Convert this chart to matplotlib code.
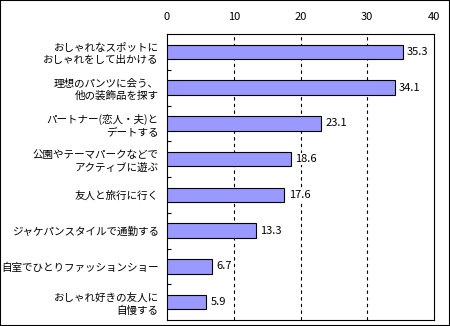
import matplotlib
matplotlib.use("Agg")
import matplotlib.pyplot as plt
from matplotlib.patches import Rectangle
import numpy as np

plt.rcParams['font.family'] = ['Noto Sans CJK JP', 'DejaVu Sans']

categories = [
    "おしゃれなスポットに\nおしゃれをして出かける",
    "理想のパンツに会う、\n他の装飾品を探す",
    "パートナー(恋人・夫)と\nデートする",
    "公園やテーマパークなどで\nアクティブに遊ぶ",
    "友人と旅行に行く",
    "ジャケパンスタイルで通勤する",
    "自室でひとりファッションショー",
    "おしゃれ好きの友人に\n自慢する",
]
values = [35.3, 34.1, 23.1, 18.6, 17.6, 13.3, 6.7, 5.9]
xticks = [0, 10, 20, 30, 40]

fig = plt.figure(figsize=(4.5, 3.26), dpi=100)
ax = fig.add_axes([167/450, 1-320/326, (434-167)/450, (320-34)/326])

y = np.arange(len(categories))
ax.barh(y, values, height=0.4, color='#9999FF', edgecolor='black', linewidth=0.8, zorder=3)
ax.set_ylim(len(categories)-0.5, -0.5)
ax.set_xlim(0, 40)

for v, yi in zip(values, y):
    ax.annotate(f"{v:.1f}", xy=(v, yi), xytext=(3, 0), textcoords='offset points',
                va='center', ha='left', fontsize=8, zorder=4,
                bbox=dict(facecolor='white', edgecolor='none', pad=0.5))

ax.set_xticks(xticks)
ax.xaxis.tick_top()
ax.tick_params(axis='x', length=0, pad=9, labelsize=8)
ax.set_yticks(y)
ax.set_yticklabels(categories, fontsize=7.6, linespacing=1.3)
ax.tick_params(axis='y', which='major', length=0, pad=6)
ax.set_yticks(np.arange(len(categories)-1)+0.5, minor=True)
ax.tick_params(axis='y', which='minor', direction='in', length=3, width=0.8)
for lbl in ax.get_yticklabels():
    lbl.set_multialignment('right')

for gx in xticks[1:-1]:
    ax.axvline(gx, color='black', linewidth=0.8, linestyle=(0, (3, 3)), zorder=1)

for s in ax.spines.values():
    s.set_linewidth(0.8)
    s.set_color('black')

fig.patches.append(Rectangle((0, 0), 1, 1, transform=fig.transFigure, fill=False,
                             edgecolor='black', linewidth=1.5))
fig.savefig("out.png", dpi=100)
